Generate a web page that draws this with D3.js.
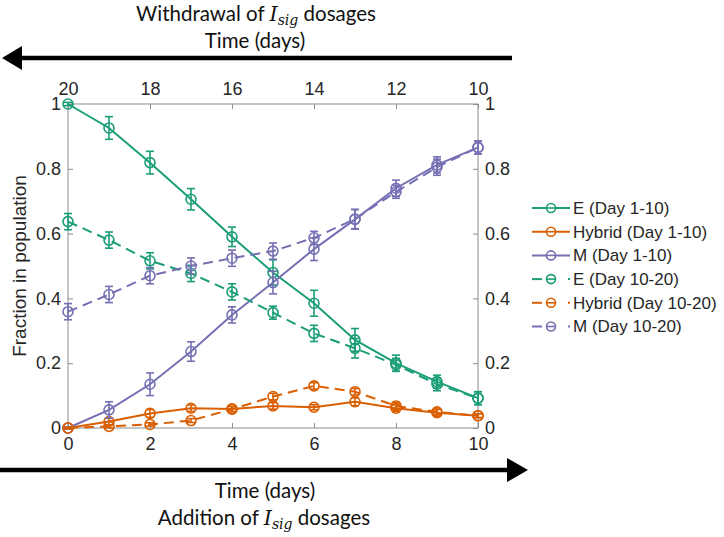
<!DOCTYPE html>
<html><head><meta charset="utf-8">
<script src="https://cdn.jsdelivr.net/npm/d3@7"></script>
<style>body{margin:0;background:#fff}svg{display:block}</style>
</head><body><svg id="c" width="724" height="537"></svg>
<script>
const days = [0,1,2,3,4,5,6,7,8,9,10];
const topTicks = [20,18,16,14,12,10];
const bottomTicks = [0,2,4,6,8,10];
const yTicks = [0,0.2,0.4,0.6,0.8,1];
const yTickLabels = ["0","0.2","0.4","0.6","0.8","1"];

const E1 = [1.0,0.926,0.819,0.706,0.59,0.48,0.385,0.272,0.2,0.143,0.092];
const E1err = [0.005,0.035,0.035,0.033,0.03,0.039,0.04,0.035,0.025,0.02,0.02];
const H1 = [0.0,0.02,0.045,0.061,0.059,0.068,0.064,0.081,0.061,0.047,0.038];
const H1err = [0.003,0.01,0.012,0.01,0.008,0.01,0.008,0.012,0.01,0.01,0.006];
const M1 = [0.0,0.056,0.135,0.236,0.349,0.449,0.552,0.644,0.74,0.812,0.866];
const M1err = [0.003,0.025,0.035,0.03,0.025,0.035,0.035,0.03,0.025,0.025,0.02];
const E2 = [0.637,0.58,0.516,0.477,0.42,0.356,0.292,0.246,0.195,0.135,0.092];
const E2err = [0.025,0.025,0.025,0.025,0.025,0.02,0.025,0.03,0.02,0.02,0.02];
const H2 = [0.0,0.005,0.011,0.023,0.058,0.097,0.13,0.112,0.068,0.05,0.038];
const H2err = [0.003,0.005,0.005,0.006,0.008,0.01,0.01,0.01,0.01,0.008,0.006];
const M2 = [0.359,0.412,0.47,0.5,0.524,0.546,0.587,0.645,0.729,0.805,0.866];
const M2err = [0.025,0.025,0.025,0.025,0.025,0.025,0.02,0.03,0.02,0.025,0.02];

const seriesNames = ["E (Day 1-10)","Hybrid (Day 1-10)","M (Day 1-10)","E (Day 10-20)","Hybrid (Day 10-20)","M (Day 10-20)"];
const colors = {E:"#1b9e77",H:"#d95f02",M:"#7570b3"};
const series = [
  {name:seriesNames[0],v:E1,e:E1err,c:colors.E,dash:null},
  {name:seriesNames[1],v:H1,e:H1err,c:colors.H,dash:null},
  {name:seriesNames[2],v:M1,e:M1err,c:colors.M,dash:null},
  {name:seriesNames[3],v:E2,e:E2err,c:colors.E,dash:"10,6"},
  {name:seriesNames[4],v:H2,e:H2err,c:colors.H,dash:"10,6"},
  {name:seriesNames[5],v:M2,e:M2err,c:colors.M,dash:"10,6"}
];

const svg = d3.select("#c");
const L=68,R=478,T=104,B=428;
const x = d3.scaleLinear().domain([0,10]).range([L,R]);
const xTop = d3.scaleLinear().domain([20,10]).range([L,R]);
const y = d3.scaleLinear().domain([0,1]).range([B,T]);
const axisColor="#8c8c8c", textColor="#262626";
const tickFont="Liberation Sans, Arial, sans-serif";

function styleAxis(g){
  g.select(".domain").remove();
  g.selectAll(".tick line").attr("stroke",axisColor).attr("stroke-width",1);
  g.selectAll(".tick text").attr("fill",textColor).style("font-family",tickFont).style("font-size","18px");
}
svg.append("rect").attr("x",L).attr("y",T).attr("width",R-L).attr("height",B-T)
  .attr("fill","none").attr("stroke",axisColor).attr("stroke-width",1);

svg.append("g").attr("transform",`translate(0,${B})`)
  .call(d3.axisBottom(x).tickValues(bottomTicks).tickSize(-5).tickPadding(9).tickFormat(d3.format("d"))).call(styleAxis);
svg.append("g").attr("transform",`translate(0,${T})`)
  .call(d3.axisTop(xTop).tickValues(topTicks).tickSize(-5).tickPadding(9).tickFormat(d3.format("d"))).call(styleAxis);
svg.append("g").attr("transform",`translate(${L},0)`)
  .call(d3.axisLeft(y).tickValues(yTicks).tickSize(-5).tickPadding(7).tickFormat((d,i)=>yTickLabels[i])).call(styleAxis);
svg.append("g").attr("transform",`translate(${R},0)`)
  .call(d3.axisRight(y).tickValues(yTicks).tickSize(-5).tickPadding(7).tickFormat((d,i)=>yTickLabels[i])).call(styleAxis);

svg.append("text").attr("transform",`translate(26,${(T+B)/2}) rotate(-90)`)
  .attr("text-anchor","middle").style("font-family",tickFont).style("font-size","19px")
  .attr("fill",textColor).text("Fraction in population");

const line = d3.line().x((d,i)=>x(days[i])).y(d=>y(d));
const plot = svg.append("g");
series.forEach(s=>{
  const g = plot.append("g");
  g.append("path").attr("d",line(s.v)).attr("fill","none").attr("stroke",s.c)
    .attr("stroke-width",2).attr("stroke-dasharray",s.dash);
  s.v.forEach((v,i)=>{
    const cx=x(days[i]);
    g.append("circle").attr("cx",cx).attr("cy",y(v)).attr("r",5)
      .attr("fill","none").attr("stroke",s.c).attr("stroke-width",1.6);
    const y0=y(v-s.e[i]), y1=y(v+s.e[i]);
    g.append("line").attr("x1",cx).attr("x2",cx).attr("y1",y0).attr("y2",y1).attr("stroke",s.c).attr("stroke-width",1.6);
    g.append("line").attr("x1",cx-4).attr("x2",cx+4).attr("y1",y0).attr("y2",y0).attr("stroke",s.c).attr("stroke-width",1.6);
    g.append("line").attr("x1",cx-4).attr("x2",cx+4).attr("y1",y1).attr("y2",y1).attr("stroke",s.c).attr("stroke-width",1.6);
  });
});

const lg = svg.append("g");
series.forEach((s,i)=>{
  const yy = 208 + i*23.7;
  if(!s.dash){
    lg.append("line").attr("x1",532).attr("x2",570).attr("y1",yy).attr("y2",yy).attr("stroke",s.c).attr("stroke-width",2);
  } else {
    lg.append("line").attr("x1",532).attr("x2",542).attr("y1",yy).attr("y2",yy).attr("stroke",s.c).attr("stroke-width",2);
    lg.append("line").attr("x1",568).attr("x2",570).attr("y1",yy).attr("y2",yy).attr("stroke",s.c).attr("stroke-width",2);
  }
  lg.append("circle").attr("cx",551).attr("cy",yy).attr("r",4.5).attr("fill","#fff").attr("stroke",s.c).attr("stroke-width",1.6);
  lg.append("line").attr("x1",547).attr("x2",555).attr("y1",yy).attr("y2",yy).attr("stroke",s.c).attr("stroke-width",1.6);
  lg.append("text").attr("x",573).attr("y",yy).attr("dy","0.35em").style("font-family",tickFont)
    .style("font-size","17px").attr("fill",textColor).text(s.name);
});

const titleFont = "Lato, 'Open Sans', sans-serif";
svg.append("line").attr("x1",18).attr("x2",512).attr("y1",58).attr("y2",58).attr("stroke","#000").attr("stroke-width",4.5);
svg.append("path").attr("d","M2,58 L22,46 L22,70 Z").attr("fill","#000");
svg.append("line").attr("x1",0).attr("x2",512).attr("y1",470).attr("y2",470).attr("stroke","#000").attr("stroke-width",4.5);
svg.append("path").attr("d","M528,470 L507,458 L507,482 Z").attr("fill","#000");

function dosageText(cx, yb, word){
  const t = svg.append("text").attr("x",cx).attr("y",yb).attr("text-anchor","middle")
    .style("font-family",titleFont).style("font-size","20.5px").attr("fill","#111");
  t.append("tspan").text(word+" of ");
  t.append("tspan").style("font-family","'DejaVu Serif','Liberation Serif',serif").style("font-style","italic").text("I");
  t.append("tspan").style("font-family","'DejaVu Serif','Liberation Serif',serif").style("font-style","italic")
    .style("font-size","14px").attr("dy","4").text("sig");
  t.append("tspan").attr("dy","-4").text(" dosages");
}
dosageText(256,21,"Withdrawal");
svg.append("text").attr("x",255).attr("y",48).attr("text-anchor","middle")
  .style("font-family",titleFont).style("font-size","20.5px").attr("fill","#111").text("Time (days)");
svg.append("text").attr("x",265).attr("y",498).attr("text-anchor","middle")
  .style("font-family",titleFont).style("font-size","20.5px").attr("fill","#111").text("Time (days)");
dosageText(264,525,"Addition");
</script></body></html>
